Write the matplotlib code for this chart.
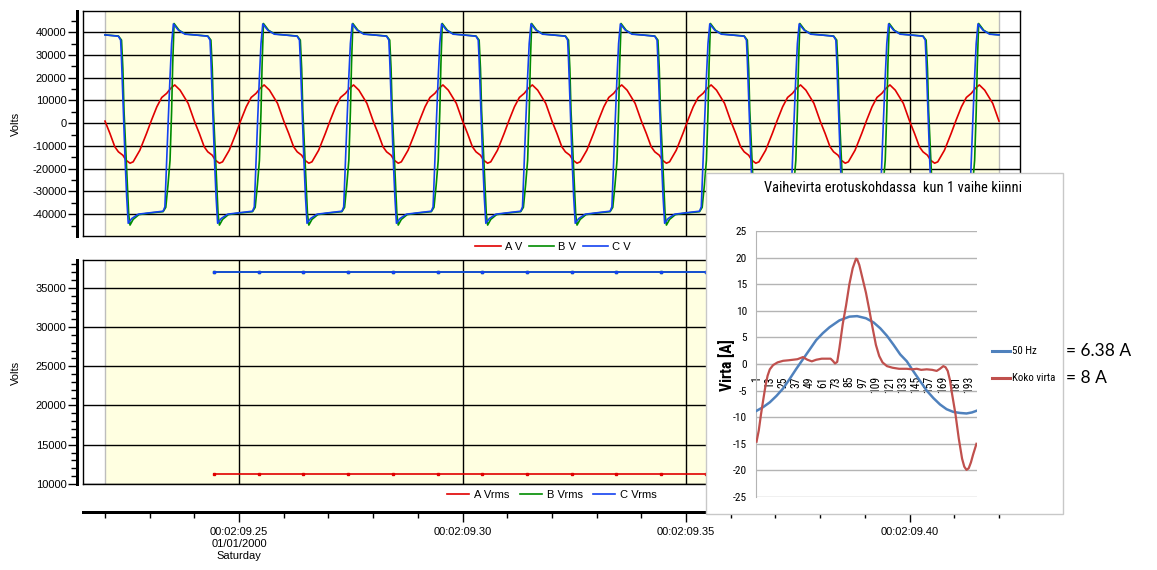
import numpy as np
import matplotlib
matplotlib.use("Agg")
import matplotlib.pyplot as plt
from matplotlib import font_manager as fm
from matplotlib.ticker import MultipleLocator, FixedLocator
from matplotlib.lines import Line2D
from matplotlib.patches import Rectangle

plt.rcParams['axes.unicode_minus'] = False
plt.rcParams['font.family'] = ['Liberation Sans', 'DejaVu Sans']

# ---------------------------------------------------------------- data
# waveform record, seconds within minute 00:02 (00:02:09.22 ... 00:02:09.42)
record_start = 9.22
record_end = 9.42
cycle_ms = 20.0
n_cycles = 10

# one 50 Hz cycle of each phase-to-ground voltage (phase in ms, volts)
a_phase_ms = [0.0, 1.1, 2.2, 3.0, 4.0, 4.7, 5.6, 6.3, 7.8, 9.3, 10.4, 11.6,
              12.7, 13.8, 14.7, 15.6, 16.8, 18.6]
a_volts = [900, -4500, -10400, -12600, -14100, -16300, -17600, -17000, -11900,
           -4500, 1300, 7200, 11300, 13100, 15300, 16800, 14500, 8700]

b_phase_ms = [0.0, 3.0, 3.7, 4.0, 4.25, 4.85, 5.3, 5.6, 6.3, 7.6, 10.0, 13.0,
              13.6, 14.1, 14.55, 14.9, 15.15, 15.45, 16.6, 18.0]
b_volts = [38800, 38300, 36500, 24000, 5700, -20600, -40000, -44800, -42300,
           -40200, -39500, -38900, -37000, -27000, -16300, 5000, 26000, 43800,
           40800, 39200]

c_phase_ms = [0.0, 3.0, 3.5, 3.7, 4.1, 4.5, 4.85, 5.2, 6.0, 7.45, 10.0, 13.0,
              13.4, 13.8, 14.15, 14.55, 14.9, 15.3, 16.4, 17.9]
c_volts = [38800, 38200, 36500, 27700, 5700, -16300, -32400, -44000, -41900,
           -40000, -39400, -38700, -36800, -16300, 1300, 20400, 35000, 43600,
           40900, 39100]

# RMS values, one per 10 ms
rms_time = [9.2444, 9.2544, 9.2644, 9.2744, 9.2844, 9.2944, 9.3044, 9.3144,
            9.3244, 9.3344, 9.3444, 9.3544, 9.3644, 9.3744, 9.3844, 9.3944,
            9.4044, 9.4144]
a_vrms = [11300, 11300, 11300, 11300, 11300, 11300, 11300, 11300, 11300,
          11300, 11300, 11300, 11300, 11300, 11300, 11300, 11300, 11300]
b_vrms = [37000, 37000, 37000, 37000, 37000, 37000, 37000, 37000, 37000,
          37000, 37000, 37000, 37000, 37000, 37000, 37000, 37000, 37000]
c_vrms = [37000, 37000, 37000, 37000, 37000, 37000, 37000, 37000, 37000,
          37000, 37000, 37000, 37000, 37000, 37000, 37000, 37000, 37000]

time_ticks = [9.25, 9.30, 9.35, 9.40]
time_labels = ['00:02:09.25\n01/01/2000\nSaturday', '00:02:09.30',
               '00:02:09.35', '00:02:09.40']

# phase current at the separation point, samples 1..200
sample_count = 200
hz50_idx = [1, 7, 13, 19, 25, 31, 37, 46, 55, 61, 67, 76, 85, 92, 100, 107,
            113, 119, 125, 131, 137, 143, 149, 155, 161, 167, 173, 179, 185,
            191, 196, 200]
hz50_amp = [-8.8, -8.1, -7.2, -6.0, -4.6, -2.8, -0.9, 1.8, 4.5, 5.8, 6.9, 8.2,
            8.9, 9.0, 8.6, 7.8, 6.7, 5.3, 3.6, 1.8, 0.5, -1.4, -3.2, -5.0,
            -6.4, -7.6, -8.5, -9.0, -9.2, -9.3, -9.1, -8.8]

total_idx = [1, 3, 5, 7, 9, 11, 13, 16, 20, 25, 30, 34, 38, 43, 47, 51, 55,
             60, 65, 68, 70, 72, 74, 76, 77, 79, 82, 85, 88, 91, 92, 94, 97,
             100, 103, 106, 109, 112, 115, 119, 124, 130, 137, 142, 146, 150,
             155, 160, 164, 167, 170, 172, 174, 176, 178, 181, 184, 187, 189,
             191, 193, 195, 197, 200]
total_amp = [-14.6, -12.5, -9.5, -6.8, -4.2, -2.2, -1.0, -0.2, 0.3, 0.6, 0.7,
             0.8, 0.9, 1.3, 0.8, 0.5, 0.8, 1.0, 1.0, 1.0, 0.6, 0.1, 0.4, 3.0,
             4.5, 7.5, 11.0, 15.0, 18.0, 19.8, 19.7, 18.6, 16.0, 13.4, 10.2,
             6.8, 3.6, 1.5, 0.3, -0.4, -0.7, -0.9, -0.9, -1.0, -0.9, -1.1,
             -1.0, -1.1, -1.3, -0.9, -0.4, -0.6, -1.3, -3.0, -5.7, -9.4,
             -14.0, -17.8, -19.3, -19.9, -19.6, -18.5, -17.0, -15.0]

cat_ticks = [1, 13, 25, 37, 49, 61, 73, 85, 97, 109, 121, 133, 145, 157, 169,
             181, 193]

RED, GREEN, BLUE = '#E00000', '#008C00', '#1442F0'
XL_BLUE, XL_RED = '#4F81BD', '#C0504D'


def pick_narrow_family():
    """Find an installed narrow/condensed sans face for the current chart."""
    found = []
    for f in fm.fontManager.ttflist:
        nm = f.name.lower()
        st = str(f.stretch).lower()
        if 'mono' in nm or ('serif' in nm and 'sans' not in nm) or 'cjk' in nm:
            continue
        if 'narrow' in nm or 'condensed' in nm or 'condensed' in st:
            found.append(f)
    for key in ('liberation sans narrow', 'roboto condensed',
                'open sans condensed', 'noto sans', 'dejavu sans', 'lato'):
        for f in found:
            if f.name.lower().startswith(key):
                return f.name, f.stretch
    if found:
        return found[0].name, found[0].stretch
    return 'Liberation Sans', 'normal'


NARROW_NAME, NARROW_STRETCH = pick_narrow_family()
NARROW = dict(family=[NARROW_NAME, 'DejaVu Sans'], stretch=NARROW_STRETCH)


def build(phase_ms, values):
    """Repeat one cycle over the whole record."""
    t, v = [], []
    for k in range(n_cycles):
        for p, y in zip(phase_ms, values):
            t.append(record_start + (k * cycle_ms + p) / 1000.0)
            v.append(y)
    t.append(record_end)
    v.append(values[0])
    return np.array(t), np.array(v)


# ---------------------------------------------------------------- layout
W, H = 1157, 570
PX = 72.0 / 100          # points per pixel
fig = plt.figure(figsize=(W / 100, H / 100), dpi=100)
renderer = fig.canvas.get_renderer()


def box(x0, y0, x1, y1):
    return [x0 / W, 1 - y1 / H, (x1 - x0) / W, (y1 - y0) / H]


def fit_size(text, size_px, size_pt=10.0, along='width', **kw):
    """Font size (pt) at which `text` spans size_px along one direction."""
    probe = fig.text(0, 0, text, fontsize=size_pt, **kw)
    ext = probe.get_window_extent(renderer=renderer)
    probe.remove()
    return size_pt * size_px / (ext.width if along == 'width' else ext.height)


t_min, t_max = 9.21508, 9.42470
ax1 = fig.add_axes(box(83, 11, 1020, 236))
ax2 = fig.add_axes(box(83, 260, 1020, 484))

for ax in (ax1, ax2):
    ax.set_xlim(t_min, t_max)
    ax.axvspan(record_start, record_end, color='#FFFFE1', lw=0, zorder=0)
    ax.axvline(record_start, color='#BDBDBD', lw=1, zorder=0.5)
    ax.axvline(record_end, color='#BDBDBD', lw=1, zorder=0.5)
    for tt in time_ticks:
        ax.axvline(tt, color='black', lw=1, zorder=1)
    ax.yaxis.grid(True, which='major', color='black', lw=1, zorder=1)
    ax.set_axisbelow(True)
    for s in ('top', 'right', 'bottom'):
        ax.spines[s].set_color('black')
        ax.spines[s].set_linewidth(1)
    ax.spines['left'].set_position(('outward', 6 * PX))
    ax.spines['left'].set_linewidth(3 * PX)
    ax.add_line(Line2D([0, 0], [0, 1], transform=ax.transAxes,
                       color='black', lw=1, clip_on=False))
    ax.tick_params(axis='y', which='major', length=9 * PX, width=1, pad=1,
                   labelsize=8, direction='out')
    ax.tick_params(axis='y', which='minor', length=6 * PX, width=1,
                   direction='out')

fig.text(16 / W, 1 - 124 / H, 'Volts', fontsize=8, rotation=90,
         ha='center', va='center')
fig.text(16 / W, 1 - 373 / H, 'Volts', fontsize=8, rotation=90,
         ha='center', va='center')

# --- top: instantaneous voltages
t, v = build(a_phase_ms, a_volts)
ax1.plot(t, v, color=RED, lw=1.2, zorder=3, label='A V')
t, v = build(b_phase_ms, b_volts)
ax1.plot(t, v, color=GREEN, lw=1.2, zorder=3, label='B V')
t, v = build(c_phase_ms, c_volts)
ax1.plot(t, v, color=BLUE, lw=1.2, zorder=4, label='C V')
ax1.set_ylim(-49600, 49300)
ax1.yaxis.set_major_locator(FixedLocator(range(-40000, 40001, 10000)))
ax1.yaxis.set_minor_locator(MultipleLocator(5000))
ax1.set_xticks([])

# --- bottom: RMS voltages
ax2.plot(rms_time, a_vrms, color=RED, lw=1.2, marker='s', ms=2, zorder=3,
         label='A Vrms')
ax2.plot(rms_time, b_vrms, color=GREEN, lw=1.2, marker='s', ms=2, zorder=3,
         label='B Vrms')
ax2.plot(rms_time, c_vrms, color=BLUE, lw=1.2, marker='s', ms=2, zorder=4,
         label='C Vrms')
ax2.set_ylim(10000, 38530)
ax2.yaxis.set_major_locator(MultipleLocator(5000))
ax2.yaxis.set_minor_locator(MultipleLocator(1000))
ax2.add_line(Line2D([0, 1], [0, 0], transform=ax2.transAxes,
                    color='black', lw=1, clip_on=False))
ax2.spines['bottom'].set_position(('outward', 28 * PX))
ax2.spines['bottom'].set_linewidth(3 * PX)
ax2.set_xticks(time_ticks)
ax2.set_xticklabels(time_labels, fontsize=8, linespacing=1.25)
ax2.xaxis.set_minor_locator(MultipleLocator(0.01))
ax2.tick_params(axis='x', which='major', length=10 * PX, width=1,
                pad=5 * PX)
ax2.tick_params(axis='x', which='minor', length=6 * PX, width=1)

# legends between the panels and under the rms panel
h1, l1 = ax1.get_legend_handles_labels()
fig.legend(h1, l1, loc='center', bbox_to_anchor=(553 / W, 1 - 247 / H),
           ncol=3, frameon=False, fontsize=8, handlelength=2.3,
           handletextpad=0.35, columnspacing=0.6, borderaxespad=0)
h2, l2 = ax2.get_legend_handles_labels()
h2 = [Line2D([], [], color=h.get_color(), lw=1.2) for h in h2]
fig.legend(h2, l2, loc='center', bbox_to_anchor=(552 / W, 1 - 495 / H),
           ncol=3, frameon=False, fontsize=8, handlelength=2.0,
           handletextpad=0.45, columnspacing=0.9, borderaxespad=0)

# ---------------------------------------------------------------- current chart
title_text = 'Vaihevirta erotuskohdassa  kun 1 vaihe kiinni'
size_title = fit_size(title_text, 255, **NARROW)
size_cat = fit_size('109', 17, along='height', rotation=90, **NARROW)
size_ytick = fit_size('-25', 14, **NARROW)
size_leg = fit_size('Koko virta', 43, **NARROW)
size_ylab = fit_size('Virta [A]', 52, along='height', rotation=90,
                     fontweight='bold', **NARROW)

fig.add_artist(Rectangle((706 / W, 1 - 514 / H), (1063 - 706) / W,
                         (514 - 173) / H, transform=fig.transFigure,
                         facecolor='white', edgecolor='#C8C8C8', lw=1,
                         zorder=5))
ax3 = fig.add_axes(box(756, 231, 977, 497))
ax3.set_zorder(6)
ax3.patch.set_alpha(0)
ax3.plot(hz50_idx, hz50_amp, color=XL_BLUE, lw=1.8, zorder=3)
ax3.plot(total_idx, total_amp, color=XL_RED, lw=1.6, zorder=4)
ax3.set_xlim(0.5, sample_count + 0.5)
ax3.set_ylim(-25, 25)
ax3.set_yticks(range(-25, 26, 5))
ax3.yaxis.grid(True, color='#B4B4B4', lw=1)
ax3.set_axisbelow(True)
for s in ('top', 'right'):
    ax3.spines[s].set_visible(False)
ax3.spines['left'].set_color('#B4B4B4')
ax3.spines['bottom'].set_color('#B4B4B4')
ax3.spines['bottom'].set_position(('data', 0))
ax3.set_xticks(cat_ticks)
ax3.set_xticklabels([str(c) for c in cat_ticks], rotation=90,
                    fontsize=size_cat, **NARROW)
ax3.tick_params(axis='x', length=0, pad=12 * PX)
ax3.tick_params(axis='y', length=0, pad=9 * PX)
for lab in ax3.get_yticklabels():
    lab.set_fontsize(size_ytick)
    lab.set_family(NARROW['family'])
    lab.set_stretch(NARROW['stretch'])

fig.text(893 / W, 1 - 188 / H, title_text, fontsize=size_title,
         ha='center', va='center', zorder=7, **NARROW)
fig.text(727 / W, 1 - 365 / H, 'Virta [A]', fontsize=size_ylab,
         fontweight='bold', rotation=90, ha='center', va='center',
         zorder=7, **NARROW)

for y, col, name in ((351, XL_BLUE, '50 Hz'), (378, XL_RED, 'Koko virta')):
    fig.add_artist(Line2D([992 / W, 1010 / W], [1 - y / H, 1 - y / H],
                          transform=fig.transFigure, color=col, lw=2.2,
                          zorder=7))
    fig.text(1012 / W, 1 - y / H, name, fontsize=size_leg,
             ha='left', va='center', zorder=7, **NARROW)

fig.text(1066 / W, 1 - 351 / H, '= 6.38 A', family=['Lato', 'DejaVu Sans'],
         fontsize=12.5, ha='left', va='center', zorder=7)
fig.text(1066 / W, 1 - 378 / H, '= 8 A', family=['Lato', 'DejaVu Sans'],
         fontsize=12.5, ha='left', va='center', zorder=7)

fig.savefig('out.png', dpi=100, facecolor='white')
